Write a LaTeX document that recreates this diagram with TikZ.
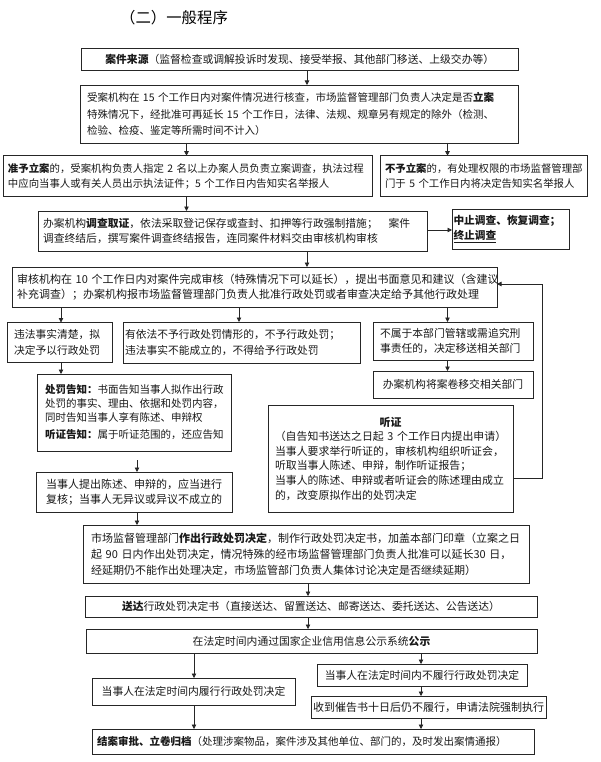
\documentclass[tikz,border=0pt]{standalone}
\usepackage{fontspec}
\setmainfont{Noto Sans CJK SC}
\newfontfamily\kaifont{Noto Sans CJK SC}
\usetikzlibrary{arrows.meta}
\newcommand\setfs[2]{\fontsize{#1}{#2}\selectfont}
\begin{document}
\begin{tikzpicture}[x=1pt,y=-1pt,
  box/.style={draw=black!85, line width=0.9pt, anchor=north west, inner ysep=0pt, outer sep=0pt, text=black!90},
  arr/.style={draw=black!85, line width=0.8pt, -{Triangle[length=4.5pt,width=4.5pt]}}]
\fill[white] (0,0) rectangle (600,762);
\useasboundingbox (0,0) rectangle (600,762);

% x positions of connectors
\coordinate (X307) at (307,0);
\coordinate (X186) at (186.5,0);
\coordinate (X447) at (447.5,0);
\coordinate (X61) at (61,0);
\coordinate (X239) at (239,0);
\coordinate (X137) at (137,0);
\coordinate (X308) at (308,0);
\coordinate (X194) at (194,0);
\coordinate (X421) at (421,0);
\coordinate (Y230) at (0,230);
\coordinate (Y284) at (0,284);
\coordinate (Y478) at (0,478);

\node[font=\kaifont\setfs{15.4}{17}] (title) at (174,18) {（二）一般程序};

\node[box, minimum width=436.5pt, minimum height=22.7pt, text width=428.5pt, inner xsep=4pt, align=center, font=\setfs{10.8}{13}] (src) at (81.5,48)
  {\textbf{案件来源}（监督检查或调解投诉时发现、接受举报、其他部门移送、上级交办等）};

\node[box, minimum width=438pt, minimum height=58pt, text width=424pt, inner xsep=7pt, align=left, font=\setfs{10.5}{16.5}] (acc) at (80,85)
  {受案机构在 15 个工作日内对案件情况进行核查，市场监督管理部门负责人决定是否\textbf{立案}\\
   特殊情况下，经批准可再延长 15 个工作日，法律、法规、规章另有规定的除外（检测、\\
   检验、检疫、鉴定等所需时间不计入）};

\node[box, minimum width=369pt, minimum height=40.3pt, text width=359pt, inner xsep=5pt, align=left, font=\setfs{10.4}{15}] (zhun) at (3,155.7)
  {\textbf{准予立案}的，受案机构负责人指定 2 名以上办案人员负责立案调查，执法过程\\
   中应向当事人或有关人员出示执法证件；5 个工作日内告知实名举报人};

\node[box, minimum width=207pt, minimum height=40.3pt, text width=197pt, inner xsep=5pt, align=left, font=\setfs{10.4}{15}] (buyu) at (380,155.7)
  {\textbf{不予立案}的，有处理权限的市场监督管理部\\
   门于 5 个工作日内将决定告知实名举报人};

\node[box, minimum width=389pt, minimum height=40pt, text width=379pt, inner xsep=5pt, align=left, font=\setfs{10.8}{15}] (inv) at (38,211)
  {办案机构\textbf{调查取证}，依法采取登记保存或查封、扣押等行政强制措施；\quad 案件\\
   调查终结后，撰写案件调查终结报告，连同案件材料交由审核机构审核};

\node[box, minimum width=117pt, minimum height=40pt, text width=114pt, inner xsep=1.5pt, align=left, font=\setfs{10.7}{14.5}] (stop) at (452,209)
  {\textbf{中止调查、恢复调查；}\\
   \underline{\textbf{终止调查}}};

\node[box, minimum width=485pt, minimum height=40pt, text width=475pt, inner xsep=5pt, align=left, font=\setfs{11}{15}] (rev) at (12,267)
  {审核机构在 10 个工作日内对案件完成审核（特殊情况下可以延长），提出书面意见和建议（含建议\\
   补充调查）；办案机构报市场监督管理部门负责人批准行政处罚或者审查决定给予其他行政处理};

\node[box, minimum width=105pt, minimum height=39.5pt, text width=91pt, inner xsep=7pt, align=left, font=\setfs{10.75}{16}] (clear) at (7,322.5)
  {违法事实清楚，拟\\决定予以行政处罚};

\node[box, minimum width=237pt, minimum height=41pt, text width=233pt, inner xsep=2pt, align=left, font=\setfs{10.75}{16}] (nopun) at (123,322)
  {有依法不予行政处罚情形的，不予行政处罚；\\违法事实不能成立的，不得给予行政处罚};

\node[box, minimum width=160pt, minimum height=38pt, text width=146pt, inner xsep=7pt, align=left, font=\setfs{10.8}{14.5}] (transfer) at (373,322)
  {不属于本部门管辖或需追究刑\\事责任的，决定移送相关部门};

\node[box, minimum width=160pt, minimum height=27pt, text width=152pt, inner xsep=4pt, align=center, font=\setfs{10.8}{13}] (move) at (373,371)
  {办案机构将案卷移交相关部门};

\node[box, minimum width=194pt, minimum height=77pt, text width=178pt, inner xsep=8pt, align=left, font=\setfs{10.5}{13.7}] (notice) at (37,374)
  {\textbf{处罚告知：}书面告知当事人拟作出行政\\
   处罚的事实、理由、依据和处罚内容，\\
   同时告知当事人享有陈述、申辩权\\[4pt]
   \textbf{听证告知：}属于听证范围的，还应告知};

\node[box, minimum width=196pt, minimum height=40pt, text width=176pt, inner xsep=10pt, align=left, font=\setfs{11}{14.5}] (state) at (36,472)
  {当事人提出陈述、申辩的，应当进行\\复核；当事人无异议或异议不成立的};

\node[box, minimum width=245pt, minimum height=107pt, text width=231pt, inner xsep=7pt, align=left, font=\setfs{10.9}{14.6}] (hear) at (268,405)
  {\makebox[\linewidth]{\textbf{听证}}\\
   \makebox[\linewidth]{（自告知书送达之日起 3 个工作日内提出申请）}\\
   当事人要求举行听证的，审核机构组织听证会，\\
   听取当事人陈述、申辩，制作听证报告；\\
   当事人的陈述、申辩或者听证会的陈述理由成立\\
   的，改变原拟作出的处罚决定};

\node[box, minimum width=446pt, minimum height=58pt, text width=430pt, inner xsep=8pt, align=left, font=\setfs{11}{16}] (decide) at (83,525)
  {市场监督管理部门\textbf{作出行政处罚决定}，制作行政处罚决定书，加盖本部门印章（立案之日\\
   起 90 日内作出处罚决定，情况特殊的经市场监督管理部门负责人批准可以延长30 日，\\
   经延期仍不能作出处理决定，市场监管部门负责人集体讨论决定是否继续延期）};

\node[box, minimum width=452pt, minimum height=21pt, text width=444pt, inner xsep=4pt, align=center, font=\setfs{10.8}{13}] (send) at (85,596)
  {\textbf{送达}行政处罚决定书（直接送达、留置送达、邮寄送达、委托送达、公告送达）};

\node[box, minimum width=451pt, minimum height=24pt, text width=443pt, inner xsep=4pt, align=center, font=\setfs{10.8}{13}] (pub) at (86,629)
  {在法定时间内通过国家企业信用信息公示系统\textbf{公示}};

\node[box, minimum width=210pt, minimum height=22pt, text width=204pt, inner xsep=3pt, align=center, font=\setfs{10.8}{13}] (nof) at (317,664)
  {当事人在法定时间内不履行行政处罚决定};

\node[box, minimum width=235pt, minimum height=22pt, text width=233pt, inner xsep=1pt, align=center, font=\setfs{11}{13}] (urge) at (311,696)
  {收到催告书十日后仍不履行，申请法院强制执行};

\node[box, minimum width=203pt, minimum height=27pt, text width=197pt, inner xsep=3pt, align=center, font=\setfs{10.8}{13}] (perf) at (92,678)
  {当事人在法定时间内履行行政处罚决定};

\node[box, minimum width=442pt, minimum height=25pt, text width=432pt, inner xsep=5pt, align=left, font=\setfs{10.5}{13}] (close) at (92,729)
  {\textbf{结案审批、立卷归档}（处理涉案物品，案件涉及其他单位、部门的，及时发出案情通报）};

% connectors
\draw[arr] (src.south -| X307) -- (acc.north -| X307);
\draw[arr] (acc.south -| X186) -- (zhun.north -| X186);
\draw[arr] (acc.south -| X447) -- (buyu.north -| X447);
\draw[arr] (zhun.south -| X186) -- (inv.north -| X186);
\draw[arr] (inv.east |- Y230) -- (stop.west |- Y230);
\draw[arr] (inv.south -| X307) -- (rev.north -| X307);
\draw[arr] (rev.south -| X61) -- (clear.north -| X61);
\draw[arr] (rev.south -| X239) -- (nopun.north -| X239);
\draw[arr] (rev.south -| X447) -- (transfer.north -| X447);
\draw[arr] (transfer.south -| X447) -- (move.north -| X447);
\draw[arr] (clear.south -| X61) -- (notice.north -| X61);
\coordinate (gap) at (137,460);
\draw[arr] (gap) -- (state.north -| gap);
\draw[arr] (state.south -| X137) -- (decide.north -| X137);
\coordinate (fb1) at (542,478);
\coordinate (fb2) at (542,284);
\draw[arr] (hear.east |- Y478) -- (fb1) -- (fb2) -- (rev.east |- Y284);
\draw[arr] (decide.south -| X308) -- (send.north -| X308);
\draw[arr] (send.south -| X308) -- (pub.north -| X308);
\draw[arr] (pub.south -| X194) -- (perf.north -| X194);
\draw[arr] (pub.south -| X421) -- (nof.north -| X421);
\draw[arr] (nof.south -| X421) -- (urge.north -| X421);
\draw[arr] (perf.south -| X194) -- (close.north -| X194);
\draw[arr] (urge.south -| X421) -- (close.north -| X421);
\end{tikzpicture}
\end{document}
